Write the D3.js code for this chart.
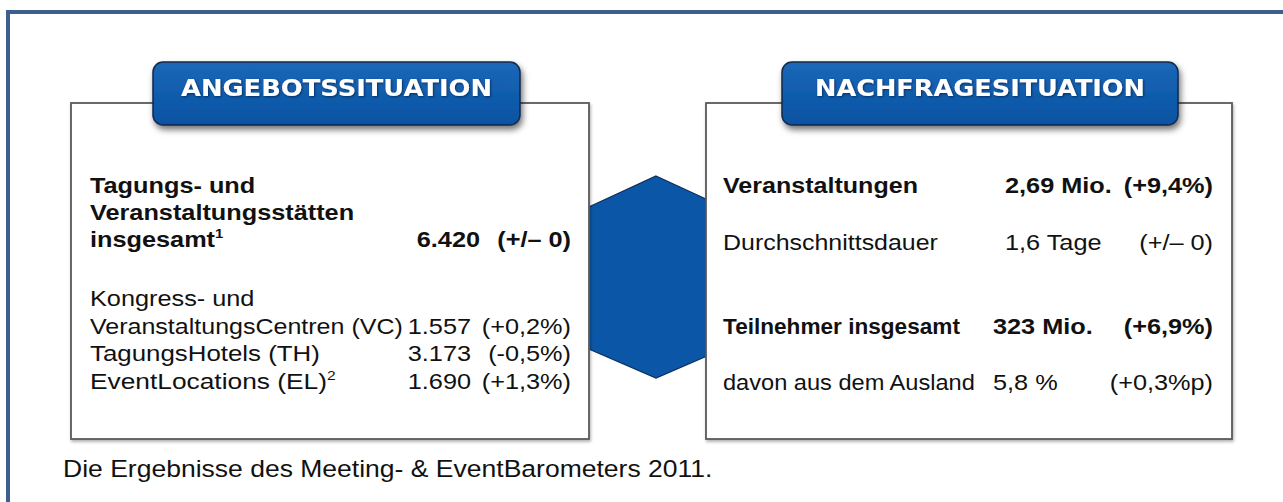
<!DOCTYPE html>
<html><head><meta charset="utf-8">
<script src="https://cdn.jsdelivr.net/npm/d3@7"></script>
<style>body{margin:0;background:#fff}svg{display:block}</style>
</head><body>
<script>
// ---- data ----
const panelTitles = ["ANGEBOTSSITUATION", "NACHFRAGESITUATION"];
const supplyTotalLines = ["Tagungs- und", "Veranstaltungsstätten", "insgesamt"];
const supplyTotalValue = "6.420";
const supplyTotalChange = "(+/– 0)";
const supplyIntro = "Kongress- und";
const supplyCategories = ["VeranstaltungsCentren (VC)", "TagungsHotels (TH)", "EventLocations (EL)"];
const supplyValues = ["1.557", "3.173", "1.690"];
const supplyChanges = ["(+0,2%)", "(-0,5%)", "(+1,3%)"];
const supplySup = ["", "", "2"];
const demandLabels = ["Veranstaltungen", "Durchschnittsdauer", "Teilnehmer insgesamt", "davon aus dem Ausland"];
const demandValues = ["2,69 Mio.", "1,6 Tage", "323 Mio.", "5,8 %"];
const demandChanges = ["(+9,4%)", "(+/– 0)", "(+6,9%)", "(+0,3%p)"];
const demandBold = [true, false, true, false];
const caption = "Die Ergebnisse des Meeting- & EventBarometers 2011.";

const W = 1283, H = 502;
const svg = d3.select("body").append("svg").attr("width", W).attr("height", H);
const defs = svg.append("defs");
const grad = defs.append("linearGradient").attr("id", "tg").attr("x1", 0).attr("y1", 0).attr("x2", 0).attr("y2", 1);
grad.append("stop").attr("offset", "0%").attr("stop-color", "#1c68b8");
grad.append("stop").attr("offset", "100%").attr("stop-color", "#0652a2");
const sh = defs.append("filter").attr("id", "sh").attr("x", "-10%").attr("y", "-20%").attr("width", "130%").attr("height", "160%");
sh.append("feDropShadow").attr("dx", 2).attr("dy", 4).attr("stdDeviation", 3).attr("flood-color", "#000").attr("flood-opacity", 0.55);
const bs = defs.append("filter").attr("id", "bs").attr("x", "-5%").attr("y", "-5%").attr("width", "110%").attr("height", "110%");
bs.append("feDropShadow").attr("dx", 1).attr("dy", 2).attr("stdDeviation", 1.5).attr("flood-color", "#000").attr("flood-opacity", 0.3);
const ts = defs.append("filter").attr("id", "ts").attr("x", "-5%").attr("y", "-30%").attr("width", "110%").attr("height", "160%");
ts.append("feDropShadow").attr("dx", 1).attr("dy", 1).attr("stdDeviation", 1).attr("flood-color", "#001a40").attr("flood-opacity", 0.7);

// outer frame
svg.append("path").attr("d", `M8,${H+5} L8,12 L${W+5},12`).attr("fill", "none")
  .attr("stroke", "#3c5f8e").attr("stroke-width", 4);

// hexagon (behind boxes)
const hx = d3.scaleLinear().domain([0, 1]).range([588, 724]);
const hy = d3.scaleLinear().domain([0, 1]).range([176, 378]);
const hexPts = [[0.5, 0], [1, 0.155], [1, 0.855], [0.5, 1], [0, 0.855], [0, 0.155]];
svg.append("path").attr("d", d3.line().x(d => hx(d[0])).y(d => hy(d[1]))(hexPts) + "Z")
  .attr("fill", "#0b56a6").attr("stroke", "#0a2d5a").attr("stroke-width", 1.2);

// boxes
const boxes = [{x: 71, y: 103, w: 518, h: 336}, {x: 706, y: 103, w: 526, h: 336}];
svg.selectAll("rect.box").data(boxes).join("rect").attr("class", "box")
  .attr("x", d => d.x).attr("y", d => d.y).attr("width", d => d.w).attr("height", d => d.h)
  .attr("fill", "#fff").attr("stroke", "#5a5a5a").attr("stroke-width", 1.8).attr("filter", "url(#bs)");

// title tabs
const tabs = [{x: 153, w: 367, tl: 311}, {x: 782, w: 396, tl: 330}];
const tg = svg.selectAll("g.tab").data(tabs).join("g").attr("class", "tab");
tg.append("rect").attr("x", d => d.x).attr("y", 62).attr("width", d => d.w).attr("height", 63)
  .attr("rx", 10).attr("fill", "url(#tg)").attr("stroke", "#12294a").attr("stroke-width", 1.5).attr("filter", "url(#sh)");
tg.append("text").attr("x", d => d.x + d.w / 2).attr("y", 96).attr("text-anchor", "middle")
  .attr("font-family", "DejaVu Sans").attr("font-weight", "bold").attr("font-size", 23.5)
  .attr("textLength", d => d.tl).attr("lengthAdjust", "spacingAndGlyphs")
  .attr("fill", "#fff").attr("filter", "url(#ts)")
  .text((d, i) => panelTitles[i]);

// text helper (source appears horizontally stretched); optional target width w
const SX = 1.15;
function txt(x, y, s, opt = {}) {
  const size = opt.size || 22;
  const t = svg.append("text")
    .attr("font-family", "Liberation Sans, Arial, sans-serif")
    .attr("font-size", size).attr("font-weight", opt.bold ? "bold" : "normal")
    .attr("text-anchor", opt.anchor || "start").attr("fill", "#111");
  const main = t.append("tspan").text(s);
  let sx = opt.sx || SX;
  if (opt.w) sx = opt.w / main.node().getComputedTextLength();
  if (opt.sup) t.append("tspan").attr("font-size", 13).attr("dy", -9).text(opt.sup);
  t.attr("transform", `translate(${x},${y}) scale(${sx},1)`);
  return t;
}

// supply panel
const lx = 90;
const yTot = d3.scalePoint().domain(d3.range(supplyTotalLines.length)).range([193, 247]);
supplyTotalLines.forEach((s, i) => txt(lx, yTot(i), s, {bold: true, sup: i === 2 ? "1" : ""}));
txt(480, yTot(2), supplyTotalValue, {bold: true, anchor: "end"});
txt(571, yTot(2), supplyTotalChange, {bold: true, anchor: "end"});

const ySup = d3.scalePoint().domain(d3.range(supplyCategories.length + 1)).range([306, 389]);
const supW = [313, 230, 237];
txt(lx, ySup(0), supplyIntro);
supplyCategories.forEach((s, i) => {
  txt(lx, ySup(i + 1), s, {sup: supplySup[i], w: supW[i]});
  txt(471, ySup(i + 1), supplyValues[i], {anchor: "end"});
  txt(571, ySup(i + 1), supplyChanges[i], {anchor: "end"});
});

// demand panel
const rx = 723;
const yDem = d3.scaleOrdinal().domain(d3.range(4)).range([193, 250, 334, 390]);
const labW = [195, 215, 237, 252];
const valX = [1005, 1005, 993, 993];
demandLabels.forEach((s, i) => {
  txt(rx, yDem(i), s, {bold: demandBold[i], w: labW[i]});
  txt(valX[i], yDem(i), demandValues[i], {bold: demandBold[i]});
  txt(1213, yDem(i), demandChanges[i], {bold: demandBold[i], anchor: "end"});
});

// caption
txt(63, 477, caption, {size: 24.5, w: 650});
</script>
</body></html>
